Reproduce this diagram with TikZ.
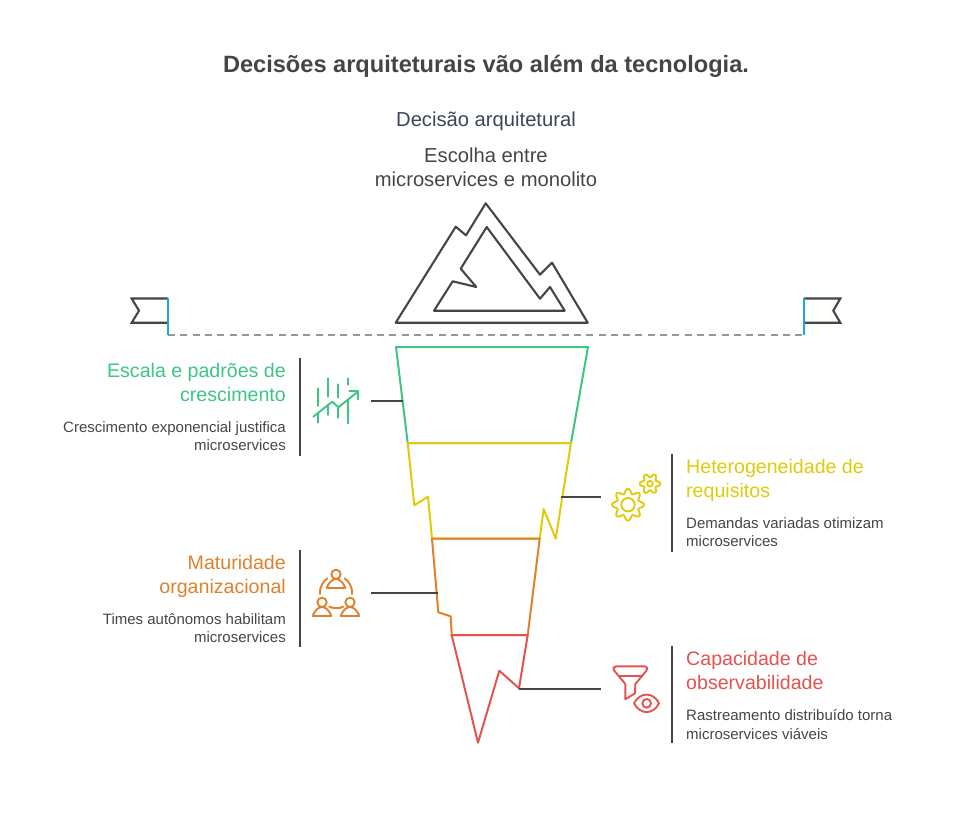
\documentclass[tikz,border=0pt]{standalone}
\usepackage{fontspec}
\setmainfont{Liberation Sans}
\usetikzlibrary{positioning}
\definecolor{inkgray}{HTML}{454545}
\definecolor{slategray}{HTML}{3B4556}
\definecolor{dashgray}{HTML}{969696}
\definecolor{poleblue}{HTML}{1EA7DD}
\definecolor{stepgreen}{HTML}{3CC583}
\definecolor{stepyellow}{HTML}{E2C909}
\definecolor{steporange}{HTML}{E0802C}
\definecolor{stepred}{HTML}{E5524F}
\tikzset{
	outline/.style={draw=inkgray, line width=2.1pt, line join=round},
	leader/.style={draw=inkgray, line width=2.2pt},
	section/.style={line width=2pt, line join=round},
	icon/.style={line width=1.9pt, line cap=round, line join=round},
	head text/.style={
		inner sep=0pt,
		text=#1,
		font=\fontsize{19.6}{24}\selectfont
	},
	desc text/.style={
		inner sep=0pt,
		text=inkgray,
		font=\fontsize{15}{18.5}\selectfont
	}
}
\newcommand{\gearicon}[5]{% center, mean radius, tooth height, teeth, hole radius
	\begin{scope}[shift={(#1)}]
		\draw[icon, stepyellow] plot[smooth cycle, domain=0:356, samples=90] (\x:{#2+#3*cos(#4*\x)});
		\draw[icon, stepyellow] (0,0) circle (#5);
	\end{scope}
}
\newcommand{\personicon}[2]{% head x, head y (in zoomed units)
	\draw[icon, steporange] (#1,#2) circle (14);
	\draw[icon, steporange] (#1-28,#2+41) .. controls (#1-22,#2+24) and (#1-10,#2+14) .. (#1,#2+14)
		.. controls (#1+10,#2+14) and (#1+22,#2+24) .. (#1+28,#2+41) -- cycle;
}
\begin{document}
\begin{tikzpicture}[x=1pt, y=-1pt]
	\useasboundingbox (0,0) rectangle (972,815);

	% texts at the top
	\node[inner sep=0pt, text=inkgray, font=\fontsize{23.6}{28}\selectfont\bfseries] (title) at (486,66) {Decisões arquiteturais vão além da tecnologia.};
	\node[inner sep=0pt, text=slategray, font=\fontsize{20.2}{24}\selectfont] (decision) at (486,121) {Decisão arquitetural};
	\node[inner sep=0pt, text=inkgray, align=center, font=\fontsize{20.2}{24}\selectfont] (choice) at (486,167) {Escolha entre\\microservices e monolito};

	% mountain
	\draw[outline] (395.7,322.7) -- (455.7,226.7) -- (466,235.3) -- (485.7,203.3) -- (540,274.7) -- (552,262.7) -- (587.7,322.7) -- cycle;
	\draw[outline] (434,310.7) -- (452.7,281.3) -- (476.3,287) -- (460.7,268.7) -- (486.7,227) -- (540,298.7) -- (550,287) -- (564.7,310.7) -- cycle;

	% flags
	\coordinate (poleL) at (168,335);
	\coordinate (poleR) at (804,335);
	\draw[dashed, dashgray, line width=1.7pt, dash pattern=on 7pt off 5.3pt] (poleL) -- (poleR);
	\draw[outline, line join=miter] (168,298.5) -- (131.7,298.5) -- (139,310.7) -- (131.7,322.7) -- (168,322.7);
	\draw[outline, line join=miter] (804,298.5) -- (840.3,298.5) -- (833.3,310.7) -- (840.3,322.7) -- (804,322.7);
	\draw[poleblue, line width=2.1pt] (poleL) -- (168,297.5);
	\draw[poleblue, line width=2.1pt] (poleR) -- (804,297.5);

	% funnel
	\coordinate (edgeG) at (403.3,400.7);
	\coordinate (edgeY) at (561,497);
	\coordinate (edgeO) at (437.7,592.7);
	\coordinate (edgeR) at (519,688.7);
	\draw[section, stepgreen] (396,347) -- (588,347) -- (571,443) -- (407.7,443) -- cycle;
	\draw[section, stepyellow] (407.7,443) -- (571,443) -- (555.7,538.7) -- (543.7,509) -- (539.7,538.7) -- (432,538.7) -- (428,496.7) -- (414.3,505.3) -- cycle;
	\draw[section, steporange] (432,538.7) -- (539.7,538.7) -- (527.7,635) -- (451.7,635) -- (450.7,616.3) -- (438.3,612.3) -- cycle;
	\draw[section, stepred] (451.7,635) -- (527.7,635) -- (519,688.3) -- (499.3,670.7) -- (478,742.7) -- cycle;

	% leaders
	\coordinate (leadG) at (371,400.7);
	\coordinate (leadY) at (600.7,497);
	\coordinate (leadO) at (371,592.7);
	\coordinate (leadR) at (600.7,688.7);
	\draw[leader] (leadG) -- (edgeG);
	\draw[leader] (edgeY) -- (leadY);
	\draw[leader] (leadO) -- (edgeO);
	\draw[leader] (edgeR) -- (leadR);
	\draw[leader] (300,358) -- (300,455.7);
	\draw[leader] (672,454) -- (672,551.7);
	\draw[leader] (300,550) -- (300,647);
	\draw[leader] (672,646) -- (672,743);

	% green block
	\node[head text=stepgreen, align=right, anchor=north east] (headG) at (286,363.5) {Escala e padrões de\\crescimento\strut};
	\node[desc text, align=right, below=12pt of headG.south east, anchor=north east] (descG) {Crescimento exponencial justifica\\microservices};
	\begin{scope}[shift={(290,350)}, scale=0.3333]
		\foreach \xa/\ya/\yb in {85/115/168, 85/190/218, 115/85/140, 115/165/195, 145/103/143, 145/175/203, 175/85/104, 175/150/220}
			\draw[icon, stepgreen] (\xa,\ya) -- (\xa,\yb);
		\draw[icon, stepgreen] (70,200) -- (127,155) -- (145,172) -- (205,124);
		\draw[icon, stepgreen] (178,123) -- (205,123) -- (205,148);
	\end{scope}

	% yellow block
	\node[head text=stepyellow, align=left, anchor=north west] (headY) at (686,459.5) {Heterogeneidade de\\requisitos\strut};
	\node[desc text, align=left, below=12pt of headY.south west, anchor=north west] (descY) {Demandas variadas otimizam\\microservices};
	\gearicon{628,504.7}{13.6}{2.4}{8}{6.7}
	\gearicon{650,483.7}{8.4}{1.9}{6}{2.8}

	% orange block
	\node[head text=steporange, align=right, anchor=north east] (headO) at (286,555.5) {Maturidade\\organizacional\strut};
	\node[desc text, align=right, below=12pt of headO.south east, anchor=north east] (descO) {Times autônomos habilitam\\microservices};
	\begin{scope}[shift={(290,545)}, scale=0.3333]
		\personicon{138}{88}
		\personicon{96}{172}
		\personicon{180}{172}
		\draw[icon, steporange] (90,147) .. controls (88,128) and (98,110) .. (112,100);
		\draw[icon, steporange] (186,147) .. controls (188,128) and (178,110) .. (164,100);
		\draw[icon, steporange] (118,185) .. controls (130,191) and (148,191) .. (160,185);
	\end{scope}

	% red block
	\node[head text=stepred, align=left, anchor=north west] (headR) at (686,651.5) {Capacidade de\\observabilidade\strut};
	\node[desc text, align=left, below=12pt of headR.south west, anchor=north west] (descR) {Rastreamento distribuído torna\\microservices viáveis};
	\begin{scope}[shift={(560,640)}, scale=0.3333]
		\draw[icon, stepred] (168,79) -- (254,79) .. controls (262,79) and (264,86) .. (260,91) -- (226,132) -- (225,160) -- (196,178) -- (196,132) -- (162,91) .. controls (158,86) and (160,79) .. (168,79) -- cycle;
		\draw[icon, stepred] (178,108) -- (245,108);
		\draw[icon, stepred] (222,190) .. controls (240,155) and (280,155) .. (297,190) .. controls (280,225) and (240,225) .. (222,190) -- cycle;
		\draw[icon, stepred] (260,190) circle (13);
	\end{scope}
\end{tikzpicture}
\end{document}
